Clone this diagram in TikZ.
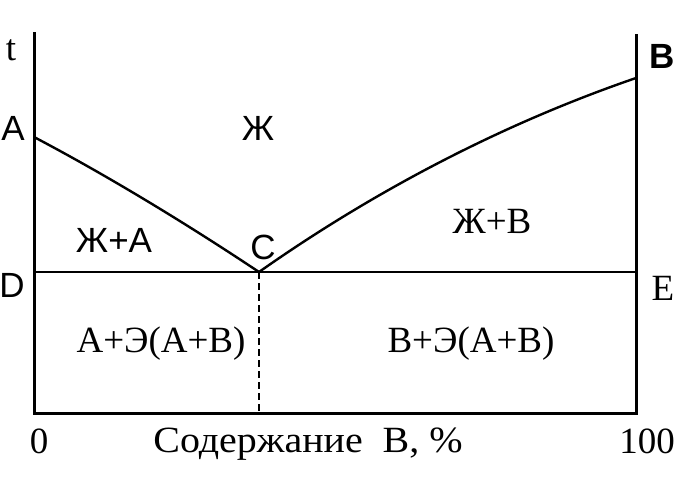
\documentclass[tikz,border=0pt]{standalone}
\usepackage{fontspec}
\setmainfont{Liberation Serif}
\newfontfamily\lsans{Liberation Sans}
\begin{document}
\begin{tikzpicture}[x=1pt,y=-1pt,
  axisline/.style={line width=3pt},
  phaseline/.style={line width=2.4pt},
  isoline/.style={line width=2pt},
  dashline/.style={line width=2pt,dash pattern=on 7pt off 4pt},
  sanslab/.style={inner sep=0pt,font=\lsans\fontsize{35}{37}\selectfont},
  seriflab/.style={inner sep=0pt,font=\fontsize{37}{39}\selectfont}]
\useasboundingbox (0,0) rectangle (674,483);
\coordinate (Atop) at (34,32);
\coordinate (A) at (34,137);
\coordinate (D) at (34,272);
\coordinate (O) at (34,413);
\coordinate (Btop) at (636,34);
\coordinate (B) at (636,78);
\coordinate (E) at (636,272);
\coordinate (F) at (636,413);
\coordinate (C) at (259,272);
\coordinate (Cb) at (259,413);
\draw[axisline] (Atop) -- (O) -- (F) -- (Btop);
\draw[isoline] (D) -- (E);
\draw[dashline] (C) -- (Cb);
\draw[phaseline] (A) .. controls (110,177) and (190,226) .. (C);
\draw[phaseline] (C) .. controls (340,215) and (470,135) .. (B);
\node[seriflab] (lt) at (11,50) {t};
\node[sanslab] (lA) at (13,128) {A};
\node[sanslab] (lD) at (12,285) {D};
\node[sanslab] (lB) at (662,56) {\bfseries B};
\node[seriflab] (lE) at (663,288) {E};
\node[sanslab] (lL) at (258,128) {Ж};
\node[sanslab] (lLA) at (114,240) {Ж+А};
\node[sanslab] (lC) at (263,247) {С};
\node[seriflab] (lLB) at (492,221) {Ж+В};
\node[seriflab] (lAE) at (161,344) {A+Э(A+B)};
\node[seriflab] (lBE) at (471,344) {B+Э(A+B)};
\node[seriflab] (l0) at (39,441) {0};
\node[seriflab] (l100) at (647,441) {100};
\node[seriflab] (lx) at (308,444) {\scalebox{1.08}[1]{Содержание\ \ В, \%}};
\end{tikzpicture}
\end{document}
